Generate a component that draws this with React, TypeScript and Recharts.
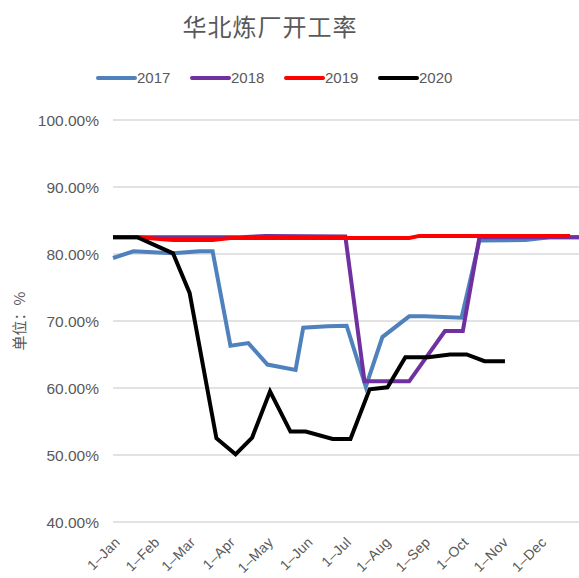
import React from 'react';
import { LineChart, Line, XAxis, YAxis, CartesianGrid, Legend } from 'recharts';

const monthTicks = [0, 31, 59, 90, 120, 151, 181, 212, 243, 273, 304, 334];
const monthLabels = ['1–Jan', '1–Feb', '1–Mar', '1–Apr', '1–May', '1–Jun', '1–Jul', '1–Aug', '1–Sep', '1–Oct', '1–Nov', '1–Dec'];
const yTicks = [40, 50, 60, 70, 80, 90, 100];

const days2017 = [0, 16, 47, 68, 78, 92, 106, 121, 143, 149, 168, 183, 198, 211, 232, 244, 273, 287, 323, 342, 365];
const values2017 = [79.4, 80.4, 80.1, 80.4, 80.4, 66.3, 66.7, 63.5, 62.7, 69.0, 69.2, 69.3, 60.2, 67.6, 70.7, 70.7, 70.5, 82.0, 82.1, 82.5, 82.5];

const days2018 = [0, 47, 100, 120, 182, 197, 232, 260, 274, 287, 365];
const values2018 = [82.5, 82.5, 82.5, 82.7, 82.6, 61.0, 61.0, 68.5, 68.5, 82.5, 82.5];

const days2019 = [19, 47, 78, 92, 182, 232, 240, 358];
const values2019 = [82.5, 82.1, 82.1, 82.4, 82.4, 82.4, 82.7, 82.7];

const days2020 = [0, 19, 47, 60, 81, 96, 109, 123, 139, 151, 172, 186, 201, 215, 229, 247, 264, 277, 291, 307];
const values2020 = [82.5, 82.5, 80.1, 74.2, 52.5, 50.1, 52.6, 59.5, 53.5, 53.5, 52.4, 52.4, 59.8, 60.1, 64.6, 64.6, 65.0, 65.0, 64.0, 64.0];

const seriesNames = ['2017', '2018', '2019', '2020'];
const seriesColors = ['#4f81bd', '#7030a0', '#ff0000', '#000000'];

const build = (days: number[], vals: number[]) => days.map((d, i) => ({ day: d, value: vals[i] }));
const seriesData = [
  build(days2017, values2017),
  build(days2018, values2018),
  build(days2019, values2019),
  build(days2020, values2020),
];

const FONT = "'Liberation Sans Narrow', 'Arial Narrow', 'Liberation Sans', sans-serif";
const GRAY = '#595959';

const XTick = (props: any) => {
  const { x, y, payload } = props;
  const idx = monthTicks.indexOf(payload.value);
  const label = idx >= 0 ? monthLabels[idx] : '';
  return (
    <g transform={`translate(${x + 8},${y + 13})`}>
      <text x={0} y={0} textAnchor="end" transform="rotate(-45)" fill={GRAY} fontSize={14} letterSpacing={0.3} fontFamily={FONT}>
        {label}
      </text>
    </g>
  );
};

const LegendContent = () => {
  return (
    <div style={{ display: 'flex', paddingLeft: 96, alignItems: 'center', fontFamily: FONT, fontSize: 15, color: GRAY }}>
      {seriesNames.map((n, i) => (
        <div key={n} style={{ display: 'flex', alignItems: 'center', width: 94 }}>
          <svg width={41} height={10}>
            <line x1={2} y1={5} x2={39} y2={5} stroke={seriesColors[i]} strokeWidth={4} strokeLinecap="round" />
          </svg>
          <span>{n}</span>
        </div>
      ))}
    </div>
  );
};

const YLabel = () => (
  <text x={21} y={321} transform="rotate(-90,21,321)" textAnchor="middle" dominantBaseline="middle" fill={GRAY} fontSize={15} fontFamily="'Noto Sans CJK SC', sans-serif">
    单位：%
  </text>
);

export default function App() {
  return (
    <div style={{ position: 'absolute', left: 0, top: 0, width: 579, height: 578, background: '#fff' }}>
      <div style={{ position: 'absolute', left: 0, top: 8, width: 540, textAlign: 'center', fontFamily: "'Noto Sans CJK SC', sans-serif", fontSize: 24, color: GRAY, letterSpacing: 1 }}>
        华北炼厂开工率
      </div>
      <LineChart width={579} height={578} margin={{ top: 90, right: 0, bottom: 0, left: 0 }}>
        <CartesianGrid vertical={false} stroke="#d9d9d9" strokeWidth={1.3} />
        <XAxis
          type="number"
          dataKey="day"
          domain={[0, 365]}
          ticks={monthTicks}
          tick={<XTick />}
          axisLine={false}
          tickLine={false}
          height={56}
          interval={0}
          allowDuplicatedCategory={false}
        />
        <YAxis
          type="number"
          domain={[40, 100]}
          ticks={yTicks}
          tickFormatter={(v: number) => `${v.toFixed(2)}%`}
          axisLine={false}
          tickLine={false}
          tickSize={0}
          tickMargin={14}
          width={113}
          tick={{ fill: GRAY, fontSize: 15.5, fontFamily: FONT }}
          label={<YLabel />}
        />
        <Legend verticalAlign="top" height={30} content={<LegendContent />} wrapperStyle={{ top: 69, left: 0, width: 579 }} />
        {seriesData.map((d, i) => (
          <Line
            key={seriesNames[i]}
            data={d}
            dataKey="value"
            name={seriesNames[i]}
            stroke={seriesColors[i]}
            strokeWidth={4}
            dot={false}
            activeDot={false}
            isAnimationActive={false}
            type="linear"
          />
        ))}
      </LineChart>
    </div>
  );
}
